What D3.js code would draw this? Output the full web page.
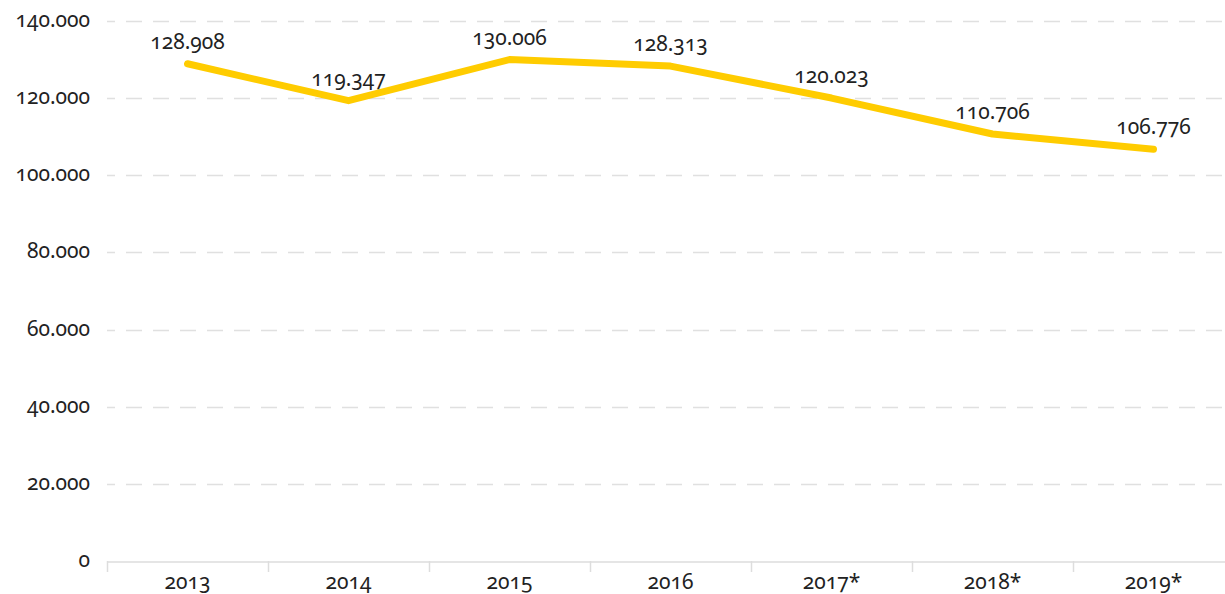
<!DOCTYPE html>
<html>
<head>
<meta charset="utf-8">
<script src="https://d3js.org/d3.v7.min.js"></script>
<style>
  body { margin: 0; background: #fff; overflow: hidden; }
  text { font-family: "Noto Sans", sans-serif; font-variant-numeric: oldstyle-nums; fill: #222; }
</style>
</head>
<body>
<div id="chart"></div>
<script>
// data
const years  = ["2013", "2014", "2015", "2016", "2017*", "2018*", "2019*"];
const values = [128908, 119347, 130006, 128313, 120023, 110706, 106776];
const yTicks = [0, 20000, 40000, 60000, 80000, 100000, 120000, 140000];

const width = 1225, height = 594;
const margin = {top: 21, right: -9, bottom: 33, left: 107};

const svg = d3.select("#chart").append("svg")
    .attr("width", width)
    .attr("height", height);

const x = d3.scaleBand()
    .domain(years)
    .range([margin.left, width - margin.right]);

const y = d3.scaleLinear()
    .domain([0, 140000])
    .range([height - margin.bottom, margin.top]);

const fmt = d => d3.format(",")(d).replace(/,/g, ".");

///////////////
/// Gridlines
///////////////
svg.append("g")
    .selectAll("line")
    .data(yTicks.filter(d => d > 0))
    .enter().append("line")
    .attr("x1", margin.left)
    .attr("x2", width - margin.right)
    .attr("y1", d => Math.round(y(d)) + 0.5)
    .attr("y2", d => Math.round(y(d)) + 0.5)
    .attr("stroke", "#e0e0e0")
    .attr("stroke-width", 1.5)
    .attr("stroke-dasharray", "16,11")
    .attr("stroke-dashoffset", 8);

// y labels
svg.append("g")
    .selectAll("text")
    .data(yTicks)
    .enter().append("text")
    .attr("x", 90)
    .attr("y", d => y(d) + 6)
    .attr("text-anchor", "end")
    .attr("font-size", "21px")
    .text(d => fmt(d));

///////////////
/// X axis
///////////////
const xAxis = svg.append("g")
    .attr("transform", "translate(0," + (Math.round(y(0)) + 0.5) + ")")
    .call(d3.axisBottom(x).tickSize(0).tickFormat(""));
xAxis.select(".domain").attr("stroke", "#ddd").attr("stroke-width", 1.5);

svg.append("g")
    .selectAll("line")
    .data(years)
    .enter().append("line")
    .attr("x1", d => Math.round(x(d)) + 0.5)
    .attr("x2", d => Math.round(x(d)) + 0.5)
    .attr("y1", y(0))
    .attr("y2", y(0) + 11)
    .attr("stroke", "#ddd")
    .attr("stroke-width", 1.5);

svg.append("g")
    .selectAll("text")
    .data(years)
    .enter().append("text")
    .attr("x", d => x(d) + x.bandwidth() / 2)
    .attr("y", 589)
    .attr("text-anchor", "middle")
    .attr("font-size", "21px")
    .text(d => d);

///////////////
/// Line
///////////////
const points = years.map((d, i) => ({year: d, value: values[i]}));

const line = d3.line()
    .x(d => x(d.year) + x.bandwidth() / 2)
    .y(d => y(d.value));

svg.append("path")
    .datum(points)
    .attr("d", line)
    .attr("fill", "none")
    .attr("stroke", "#ffcc00")
    .attr("stroke-width", 7)
    .attr("stroke-linecap", "round")
    .attr("stroke-linejoin", "round");

// value labels
svg.append("g")
    .selectAll("text")
    .data(points)
    .enter().append("text")
    .attr("x", d => x(d.year) + x.bandwidth() / 2)
    .attr("y", d => y(d.value) - 15)
    .attr("text-anchor", "middle")
    .attr("font-size", "21px")
    .text(d => fmt(d.value));
</script>
</body>
</html>
